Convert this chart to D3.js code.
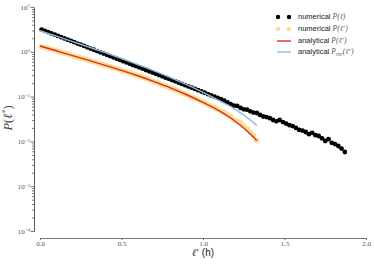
<!DOCTYPE html>
<meta charset="utf-8">
<style>
body { margin: 0; background: #fff; }
svg { display: block; font-family: 'Liberation Serif', serif; }
.axis path, .axis line { stroke: #555; stroke-width: 0.8; }
.axis text { fill: #555; font-size: 7px; font-family: 'Liberation Serif', serif; }
.legend text { font-family: 'Liberation Sans', sans-serif; font-size: 7.5px; fill: #222; }
.legend .m { font-family: 'Liberation Serif', serif; font-style: italic; fill: #555; }
</style>
<svg id="chart" width="374" height="264"></svg>
<script src="https://cdn.jsdelivr.net/npm/d3@7"></script>
<script>

// numerical P(l), all trips
var lenAll = [0.01,0.03,0.05,0.07,0.09,0.11,0.13,0.15,0.17,0.19,0.21,0.23,0.25,0.27,0.29,0.31,0.33,0.35,0.37,0.39,
  0.41,0.43,0.45,0.47,0.49,0.51,0.53,0.55,0.57,0.59,0.61,0.63,0.65,0.67,0.69,0.71,0.73,0.75,0.77,0.79,
  0.81,0.83,0.85,0.87,0.89,0.91,0.93,0.95,0.97,0.99,1.01,1.03,1.05,1.07,1.09,1.11,1.13,1.15,1.17,1.19,
  1.21,1.23,1.25,1.27,1.29,1.31,1.33,1.35,1.37,1.39,1.41,1.43,1.45,1.47,1.49,1.51,1.53,1.55,1.57,1.59,
  1.61,1.63,1.65,1.67,1.69,1.71,1.73,1.75,1.77,1.79,1.81,1.83,1.85,1.87];
var probAll = [3.13,2.94,2.75,2.58,2.42,2.26,2.12,1.99,1.86,1.75,1.64,1.53,1.44,1.35,1.26,1.18,1.11,1.04,0.973,0.912,
  0.855,0.801,0.751,0.704,0.66,0.618,0.579,0.543,0.508,0.477,0.447,0.419,0.392,0.367,0.344,0.323,0.303,0.283,0.265,0.249,
  0.233,0.219,0.205,0.192,0.180,0.169,0.158,0.148,0.139,0.130,0.122,0.114,0.107,0.100,0.094,0.088,0.081,0.074,0.068,0.063,
  0.062,0.056,0.052,0.051,0.047,0.044,0.043,0.039,0.036,0.035,0.033,0.030,0.028,0.030,0.027,0.025,0.023,0.022,0.020,0.018,
  0.0174,0.0162,0.0145,0.0155,0.0138,0.0132,0.0117,0.0102,0.0112,0.0093,0.0087,0.0079,0.0069,0.0058];

// numerical P(l*)
var lenStar = [0.01,0.03,0.05,0.07,0.09,0.11,0.13,0.15,0.17,0.19,0.21,0.23,0.25,0.27,0.29,0.31,0.33,0.35,0.37,0.39,
  0.41,0.43,0.45,0.47,0.49,0.51,0.53,0.55,0.57,0.59,0.61,0.63,0.65,0.67,0.69,0.71,0.73,0.75,0.77,0.79,
  0.81,0.83,0.85,0.87,0.89,0.91,0.93,0.95,0.97,0.99,1.01,1.03,1.05,1.07,1.09,1.11,1.13,1.15,1.17,1.19,
  1.21,1.23,1.25,1.27,1.29,1.31,1.33];
var probStar = [1.31,1.25,1.19,1.13,1.08,1.03,0.98,0.93,0.89,0.845,0.80,0.77,0.73,0.695,0.66,0.63,0.60,0.57,0.54,0.513,
  0.487,0.463,0.44,0.417,0.397,0.375,0.356,0.337,0.318,0.30,0.285,0.268,0.253,0.238,0.223,0.21,0.197,0.184,0.172,0.162,
  0.151,0.141,0.131,0.122,0.114,0.106,0.098,0.091,0.085,0.078,0.072,0.066,0.061,0.056,0.052,0.047,0.044,0.040,0.036,0.030,
  0.028,0.026,0.022,0.019,0.016,0.0135,0.0105];

// analytical curves
var lenCurve = [0,0.1,0.2,0.3,0.4,0.5,0.6,0.7,0.8,0.9,1.0,1.1,1.2,1.3,1.33];
var probAnalytic = [1.349,1.054,0.822,0.643,0.499,0.385,0.292,0.216,0.157,0.110,0.0741,0.0479,0.0278,0.0136,0.0105];
var probRec = [2.95,2.24,1.69,1.27,0.955,0.708,0.519,0.376,0.266,0.184,0.124,0.0813,0.0513,0.0282,0.0225];

var xTicks = [0, 0.5, 1.0, 1.5, 2.0];
var yTicks = [1e-4, 1e-3, 1e-2, 1e-1, 1, 10];
var yExp = ["\u22124", "\u22123", "\u22122", "\u22121", "0", "1"];

var svg = d3.select("#chart");

var x = d3.scaleLinear().domain([0, 2]).range([40, 366]);
var y = d3.scaleLog().domain([1e-4, 10]).range([231, 7]);

// minor y ticks
svg.append("g")
    .attr("class", "axis")
    .attr("transform", "translate(34,0)")
    .call(d3.axisLeft(y).tickValues(y.ticks().filter(function(v) { return yTicks.indexOf(v) < 0; }))
      .tickSize(2).tickSizeOuter(0).tickFormat(""));

var yAxis = svg.append("g")
    .attr("class", "axis")
    .attr("transform", "translate(34,0)")
    .call(d3.axisLeft(y).tickValues(yTicks).tickSize(3.5).tickSizeOuter(0).tickPadding(2).tickFormat(""));

yAxis.selectAll(".tick").each(function(d, i) {
  var t = d3.select(this).select("text")
      .attr("x", -4).attr("dy", "0.3em").attr("text-anchor", "end");
  t.append("tspan").text("10");
  t.append("tspan").attr("dy", "-0.45em").style("font-size", "5px").text(yExp[i]);
});

svg.append("g")
    .attr("class", "axis")
    .attr("transform", "translate(0,238)")
    .call(d3.axisBottom(x).tickValues(xTicks).tickSize(2).tickSizeOuter(0).tickPadding(1.5)
      .tickFormat(d3.format(".1f")));

// axis labels
var ylab = svg.append("text")
    .attr("transform", "translate(12,118) rotate(-90)")
    .attr("text-anchor", "middle")
    .style("font-size", "12.5px")
    .style("fill", "#444");
ylab.append("tspan").style("font-style", "italic").text("P");
ylab.append("tspan").text("(");
ylab.append("tspan").style("font-style", "italic").text("\u2113");
ylab.append("tspan").attr("dy", "-4.5").style("font-size", "8px").text("*");
ylab.append("tspan").attr("dy", "4.5").text(")");

var xlab = svg.append("text")
    .attr("x", 203).attr("y", 256)
    .attr("text-anchor", "middle")
    .style("font-size", "10px")
    .style("fill", "#222");
xlab.append("tspan").style("font-family", "'Liberation Serif', serif").style("font-style", "italic").text("\u2113");
xlab.append("tspan").attr("dy", "-3.5").style("font-size", "6px").text("*");
xlab.append("tspan").attr("dy", "3.5").style("font-family", "'Liberation Sans', sans-serif").text(" (h)");

// marks
svg.append("g").selectAll("circle")
    .data(lenAll)
  .enter().append("circle")
    .attr("cx", function(d) { return x(d); })
    .attr("cy", function(d, i) { return y(probAll[i]); })
    .attr("r", 2.4)
    .attr("fill", "#000");

svg.append("g").selectAll("circle")
    .data(lenStar)
  .enter().append("circle")
    .attr("cx", function(d) { return x(d); })
    .attr("cy", function(d, i) { return y(probStar[i]); })
    .attr("r", 2.8)
    .attr("fill", "#fedc94");

var line = d3.line()
    .x(function(d) { return x(d[0]); })
    .y(function(d) { return y(d[1]); })
    .curve(d3.curveMonotoneX);

svg.append("path")
    .datum(lenCurve.map(function(l, i) { return [l, probAnalytic[i]]; }))
    .attr("d", line)
    .attr("fill", "none")
    .attr("stroke", "#d7301f")
    .attr("stroke-width", 1.4);

svg.append("path")
    .datum(lenCurve.map(function(l, i) { return [l, probRec[i]]; }))
    .attr("d", line)
    .attr("fill", "none")
    .attr("stroke", "#8fbcdc")
    .attr("stroke-width", 1.4);

// legend
var legend = svg.append("g").attr("class", "legend");
var rows = [
  {kind: "dot", color: "#000", label: "numerical ", math: "P(\u2113)", sub: null, star: false},
  {kind: "dot", color: "#fedc94", label: "numerical ", math: "P(\u2113", sub: null, star: true},
  {kind: "line", color: "#d7301f", label: "analytical ", math: "P(\u2113", sub: null, star: true},
  {kind: "line", color: "#8fbcdc", label: "analytical ", math: "P", sub: "rec", star: true}
];
var rowY = [17, 29, 41, 52];
rows.forEach(function(r, i) {
  var g = legend.append("g").attr("transform", "translate(0," + rowY[i] + ")");
  if (r.kind == "dot") {
    g.append("circle").attr("cx", 278).attr("r", 2.2).attr("fill", r.color);
    g.append("circle").attr("cx", 289).attr("r", 2.2).attr("fill", r.color);
  } else {
    g.append("line").attr("x1", 277).attr("x2", 291)
      .attr("stroke", r.color).attr("stroke-width", 1.4);
  }
  var t = g.append("text").attr("x", 298).attr("dy", "0.32em");
  t.append("tspan").text(r.label);
  t.append("tspan").attr("class", "m").text(r.math);
  if (r.sub) {
    t.append("tspan").attr("class", "m").attr("dy", "2").style("font-size", "5.5px").text(r.sub);
    t.append("tspan").attr("class", "m").attr("dy", "-2").text("(\u2113");
  }
  if (r.star) {
    t.append("tspan").attr("class", "m").attr("dy", "-2.5").style("font-size", "5px").text("*");
    t.append("tspan").attr("class", "m").attr("dy", "2.5").text(")");
  }
});

</script>
